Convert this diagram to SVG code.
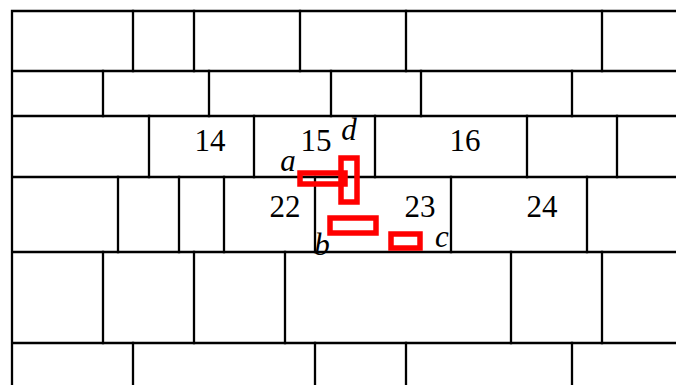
<svg xmlns="http://www.w3.org/2000/svg" width="676" height="385" viewBox="0 0 676 385">
<style>
.g{stroke:#000;stroke-width:2.3;fill:none;stroke-linecap:square}
.r{stroke:#f00;stroke-width:5.5;fill:none}
.n{font-family:"Liberation Serif","Times New Roman",serif;font-size:31px;fill:#000;text-anchor:middle}
.i{font-style:italic}
</style>
<rect width="676" height="385" fill="#fff"/>
<g id="grid" class="g">
<path d="M12 11H676M12 71H676M12 116H676M12 177H676M12 252H676M12 343H676M12 11V385"/>
<path d="M133 11V71M194 11V71M300 11V71M406 11V71M602 11V71"/>
<path d="M103 71V116M209 71V116M331 71V116M421 71V116M572 71V116"/>
<path d="M149 116V177M254 116V177M375 116V177M527 116V177M617 116V177"/>
<path d="M118 177V252M179 177V252M224 177V252M315 177V252M451 177V252M587 177V252"/>
<path d="M103 252V343M194 252V343M285 252V343M511 252V343M602 252V343"/>
<path d="M133 343V385M315 343V385M406 343V385M572 343V385"/>
</g>
<g id="labels">
<text class="n" x="210" y="151">14</text>
<text class="n" x="316" y="151">15</text>
<text class="n" x="465" y="151">16</text>
<text class="n" x="285" y="217">22</text>
<text class="n" x="420" y="217">23</text>
<text class="n" x="542" y="217">24</text>
<text class="n i" x="288" y="171">a</text>
<text class="n i" x="349" y="140">d</text>
<text class="n i" x="322" y="255">b</text>
<text class="n i" x="442" y="247">c</text>
</g>
<g id="marks" class="r">
<rect x="300" y="173" width="45" height="11"/>
<rect x="341" y="158" width="16" height="44"/>
<rect x="330" y="218" width="46" height="15"/>
<rect x="391" y="234" width="29" height="14"/>
</g>
</svg>
